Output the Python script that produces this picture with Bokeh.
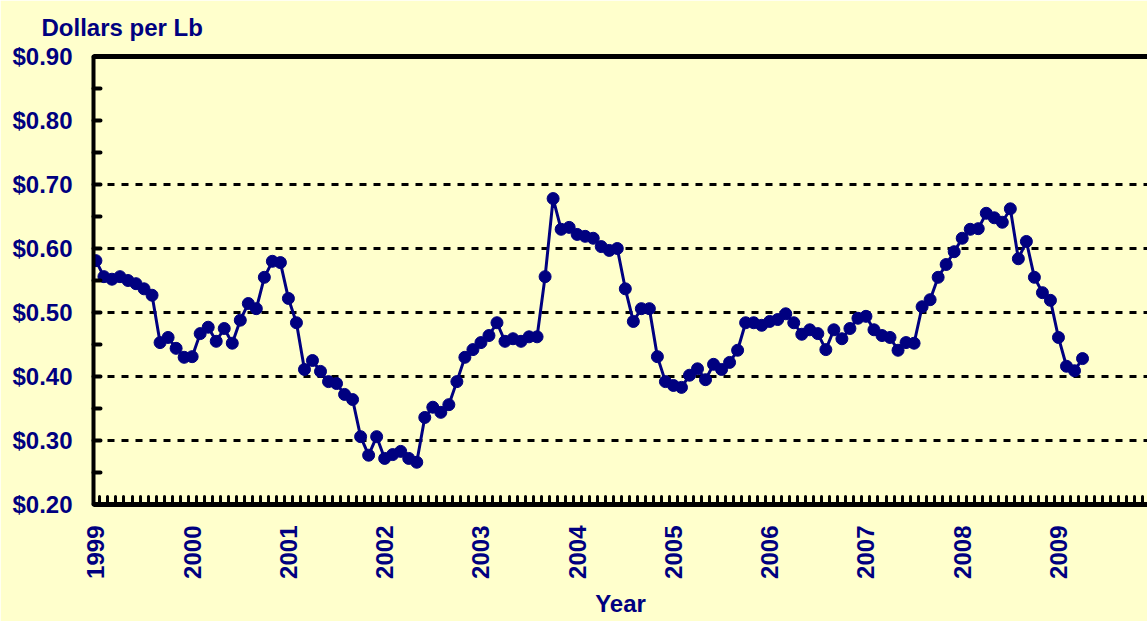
import math
from bokeh.plotting import figure
from bokeh.models import LinearAxis, FixedTicker, NumeralTickFormatter, Range1d, ColumnDataSource
from bokeh.embed import file_html
from bokeh.resources import INLINE

# ---- data (monthly, Jan 1999 .. Apr 2009), dollars per lb ----
year_labels = ["1999", "2000", "2001", "2002", "2003", "2004",
               "2005", "2006", "2007", "2008", "2009"]
p1999 = [0.581, 0.556, 0.552, 0.556, 0.550, 0.545, 0.537, 0.527, 0.453, 0.461, 0.444, 0.430]
p2000 = [0.431, 0.467, 0.477, 0.455, 0.475, 0.452, 0.488, 0.514, 0.506, 0.555, 0.580, 0.578]
p2001 = [0.522, 0.484, 0.411, 0.425, 0.408, 0.392, 0.389, 0.372, 0.364, 0.306, 0.277, 0.306]
p2002 = [0.272, 0.278, 0.283, 0.272, 0.266, 0.336, 0.352, 0.344, 0.356, 0.392, 0.430, 0.442]
p2003 = [0.453, 0.464, 0.484, 0.455, 0.459, 0.455, 0.462, 0.462, 0.556, 0.678, 0.630, 0.633]
p2004 = [0.622, 0.619, 0.616, 0.603, 0.597, 0.600, 0.537, 0.486, 0.506, 0.506, 0.431, 0.392]
p2005 = [0.386, 0.383, 0.402, 0.412, 0.395, 0.419, 0.411, 0.422, 0.441, 0.484, 0.484, 0.480]
p2006 = [0.486, 0.489, 0.498, 0.484, 0.466, 0.473, 0.467, 0.442, 0.473, 0.459, 0.475, 0.491]
p2007 = [0.494, 0.473, 0.464, 0.461, 0.441, 0.453, 0.452, 0.509, 0.520, 0.555, 0.575, 0.595]
p2008 = [0.616, 0.630, 0.631, 0.655, 0.648, 0.641, 0.662, 0.584, 0.611, 0.555, 0.531, 0.519]
p2009 = [0.461, 0.416, 0.409, 0.428]

prices = p1999 + p2000 + p2001 + p2002 + p2003 + p2004 + p2005 + p2006 + p2007 + p2008 + p2009
months = list(range(len(prices)))

NAVY = "#000080"
BG = "#FFFFCC"
FONT = "Liberation Sans"

src = ColumnDataSource(data=dict(m=months, price=prices))

p = figure(width=1147, height=621, output_backend="svg", toolbar_location=None,
           x_range=Range1d(-0.3, 131.1), y_range=Range1d(0.2, 0.9),
           title="Dollars per Lb",
           min_border_left=93, min_border_right=0, min_border_bottom=117, min_border_top=56,
           background_fill_color=BG, border_fill_color=BG, outline_line_color=None)

# title
p.title.text_font = FONT
p.title.text_font_style = "bold"
p.title.text_font_size = "24px"
p.title.text_color = NAVY
p.title.align = "left"
p.title.vertical_align = "top"
p.title.offset = -52
p.title.standoff = 27

# x axis
xa = p.xaxis[0]
xa.ticker = FixedTicker(ticks=[12 * k for k in range(len(year_labels))],
                        minor_ticks=[k + 0.5 for k in range(-1, 132)])
xa.major_label_overrides = {12 * k: lab for k, lab in enumerate(year_labels)}
xa.major_label_orientation = math.pi / 2
xa.major_label_standoff = 21
xa.major_label_text_font = FONT
xa.major_label_text_font_style = "bold"
xa.major_label_text_font_size = "24px"
xa.major_label_text_color = NAVY
xa.major_tick_in = 0
xa.major_tick_out = 0
xa.minor_tick_in = 8
xa.minor_tick_out = 0
xa.minor_tick_line_width = 3
xa.minor_tick_line_color = "black"
xa.minor_tick_line_cap = "round"
xa.axis_line_width = 5
xa.axis_line_color = "black"
xa.axis_label = "Year"
xa.axis_label_text_font = FONT
xa.axis_label_text_font_style = "bold"
xa.axis_label_text_font_size = "24px"
xa.axis_label_text_color = NAVY
xa.axis_label_standoff = 8

# y axis
ya = p.yaxis[0]
ya.ticker = FixedTicker(ticks=[round(0.2 + 0.1 * k, 2) for k in range(8)],
                        minor_ticks=[round(0.25 + 0.1 * k, 2) for k in range(7)])
ya.formatter = NumeralTickFormatter(format="$0.00")
ya.major_label_standoff = 21
ya.major_label_text_font = FONT
ya.major_label_text_font_style = "bold"
ya.major_label_text_font_size = "24px"
ya.major_label_text_color = NAVY
ya.major_tick_in = 7
ya.major_tick_out = 0
ya.minor_tick_in = 7
ya.minor_tick_out = 0
ya.major_tick_line_width = 4
ya.minor_tick_line_width = 4
ya.major_tick_line_cap = "round"
ya.minor_tick_line_cap = "round"
ya.axis_line_width = 4
ya.axis_line_color = "black"

# top border
top = LinearAxis(ticker=FixedTicker(ticks=[]), axis_line_width=5, axis_line_color="black",
                 major_tick_out=0, minor_tick_out=0, major_label_text_font_size="0px")
p.add_layout(top, "above")

# grid
p.xgrid.visible = False
p.ygrid.ticker = FixedTicker(ticks=[round(0.3 + 0.1 * k, 2) for k in range(5)])
p.ygrid.grid_line_color = "black"
p.ygrid.grid_line_width = 3
p.ygrid.grid_line_dash = "7 7"

# series
p.line("m", "price", source=src, line_width=3, line_color=NAVY, line_join="round")
p.scatter("m", "price", source=src, size=12, fill_color=NAVY, line_color=NAVY)

open("out.html", "w").write(file_html(p, INLINE))
